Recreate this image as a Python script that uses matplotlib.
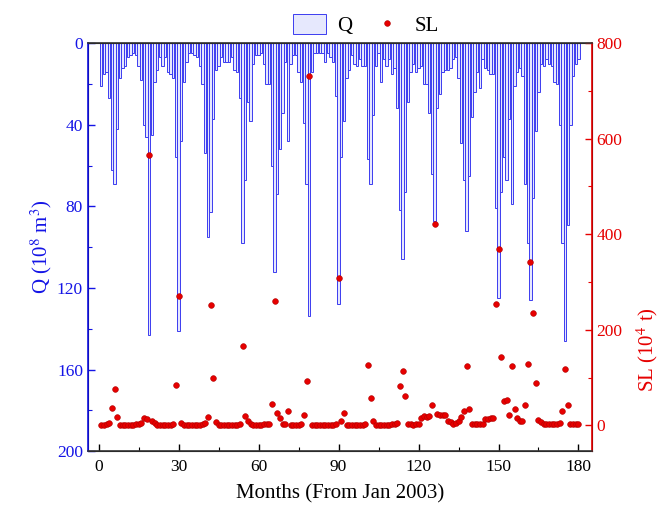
import numpy as np
import matplotlib
matplotlib.use("Agg")
import matplotlib.pyplot as plt
from matplotlib.ticker import MultipleLocator

plt.rcParams['font.family'] = ['Liberation Serif', 'DejaVu Serif']
plt.rcParams['mathtext.fontset'] = 'stix'

# data: monthly runoff Q (10^8 m^3) and sediment load SL (10^4 t), Jan 2003 on
months = np.arange(1, 181)
q = [21, 15, 14, 27, 62, 69, 42, 17, 12, 11, 7, 6, 5, 6, 11, 18, 40, 46, 143, 45,
     19, 13, 7, 11, 7, 14, 15, 17, 56, 141, 48, 19, 9, 5, 5, 6, 7, 11, 20, 54,
     95, 83, 37, 13, 11, 7, 9, 9, 9, 7, 13, 14, 27, 98, 67, 29, 38, 10, 6, 6,
     5, 10, 20, 20, 60, 112, 74, 52, 34, 9, 48, 10, 6, 6, 14, 19, 39, 69, 134, 14,
     5, 5, 5, 5, 9, 5, 7, 9, 26, 128, 56, 38, 17, 13, 6, 10, 11, 8, 11, 11,
     57, 69, 35, 11, 5, 19, 8, 11, 8, 15, 12, 32, 82, 106, 73, 29, 14, 10, 14, 12,
     11, 20, 20, 34, 64, 87, 32, 25, 14, 13, 13, 12, 8, 7, 17, 49, 67, 92, 65, 36,
     24, 14, 22, 8, 12, 13, 15, 15, 81, 125, 73, 56, 67, 37, 79, 21, 14, 12, 16, 69,
     98, 126, 76, 43, 24, 10, 11, 8, 10, 11, 19, 20, 40, 98, 146, 89, 40, 16, 10, 8]
sl = [1, 0, 2, 5, 36, 77, 17, 1, 0, 1, 1, 0, 1, 2, 3, 5, 15, 14, 565, 10,
      4, 1, 1, 0, 1, 1, 1, 2, 84, 270, 4, 1, 1, 0, 0, 1, 1, 1, 2, 5,
      18, 251, 98, 6, 1, 1, 0, 0, 1, 1, 1, 1, 2, 167, 19, 9, 2, 1, 1, 1,
      1, 2, 2, 3, 45, 260, 25, 15, 3, 2, 30, 1, 1, 1, 1, 2, 22, 92, 731, 1,
      1, 1, 1, 0, 1, 1, 1, 1, 2, 309, 10, 25, 1, 1, 1, 0, 1, 1, 1, 2,
      126, 58, 8, 1, 1, 0, 1, 1, 1, 2, 2, 5, 82, 114, 62, 3, 2, 1, 2, 3,
      15, 19, 18, 20, 42, 421, 23, 22, 21, 21, 8, 7, 3, 4, 8, 18, 30, 125, 34, 3,
      2, 2, 2, 3, 13, 14, 15, 15, 255, 369, 144, 50, 52, 22, 125, 34, 15, 9, 9, 42,
      128, 341, 235, 88, 11, 7, 3, 2, 2, 2, 2, 3, 4, 30, 118, 42, 3, 2, 2, 2]

blue = '#1414e6'
red = '#e60000'

fig = plt.figure(figsize=(6.71, 5.08), dpi=100)
ax = fig.add_axes([0.131, 0.112, 0.751, 0.803])
bars = ax.bar(months, q, width=0.9, facecolor='#e6e8fd', edgecolor='#3c3cf0',
              linewidth=0.7, label='Q')
ax.set_xlim(-4, 185)
ax.set_ylim(200, 0)
ax.xaxis.set_major_locator(MultipleLocator(30))
ax.xaxis.set_minor_locator(MultipleLocator(15))
ax.yaxis.set_major_locator(MultipleLocator(40))
ax.yaxis.set_minor_locator(MultipleLocator(20))
ax.set_xlabel('Months (From Jan 2003)', fontsize=15, labelpad=6)
ax.set_ylabel('Q (10$^8$ m$^3$)', fontsize=15, color=blue, labelpad=2)

ax2 = ax.twinx()
pts = ax2.scatter(months, sl, s=17, color=red, edgecolors='#b00000',
                  linewidths=0.4, zorder=3, label='SL')
ax2.set_ylim(-54, 800)
ax2.yaxis.set_major_locator(MultipleLocator(200))
ax2.yaxis.set_minor_locator(MultipleLocator(100))
ax2.set_ylabel('SL (10$^4$ t)', fontsize=15, color=red)
ax2.yaxis.set_label_coords(1.085, 0.25)  # sits low, beside the 0-200 labels

for a in (ax, ax2):
    a.tick_params(which='both', direction='in', labelsize=12.5)
    a.tick_params(which='major', length=5, width=1)
    a.tick_params(which='minor', length=3, width=0.8)
ax.tick_params(axis='x', pad=6)
ax.tick_params(axis='y', which='both', colors=blue, labelcolor=blue)
ax2.tick_params(axis='y', which='both', colors=red, labelcolor=red)
ax2.spines['left'].set_color(blue)
ax2.spines['right'].set_color(red)
ax2.spines['top'].set_color('#333333')
ax2.spines['bottom'].set_color('#333333')
for s in ax2.spines.values():
    s.set_linewidth(1.2)

fig.legend(handles=[bars, pts], labels=['Q', 'SL'], loc='upper center',
           bbox_to_anchor=(0.545, 1.01), ncol=2, frameon=False, fontsize=15,
           handlelength=1.6, handleheight=1.1, columnspacing=0.9,
           handletextpad=0.5)

fig.savefig('out.png', dpi=100)
